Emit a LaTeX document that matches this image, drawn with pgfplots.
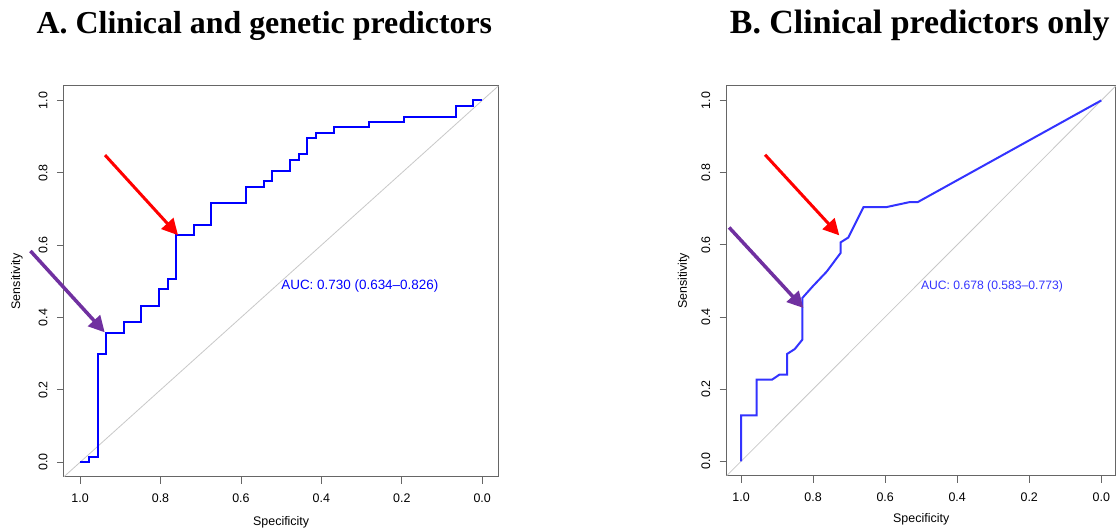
\documentclass[border=0pt]{standalone}
\usepackage{fontspec}
\setmainfont{Liberation Sans}
\newfontfamily\titlefont{Liberation Serif}
\usepackage{pgfplots}
\pgfplotsset{compat=1.18}
\usetikzlibrary{arrows.meta}

\definecolor{rocblue}{HTML}{0000FF}
\definecolor{rocblueb}{HTML}{3333FF}
\definecolor{arrred}{HTML}{FF0000}
\definecolor{arrpurple}{HTML}{7030A0}
\definecolor{framegray}{HTML}{666666}
\definecolor{diaggray}{HTML}{C8C8C8}

\pgfplotsset{rocaxis/.style={
    scale only axis,
    x dir=reverse,
    xmin=-0.04, xmax=1.04, ymin=-0.04, ymax=1.04,
    xtick={0,0.2,0.4,0.6,0.8,1.0},
    ytick={0,0.2,0.4,0.6,0.8,1.0},
    xtick pos=left, ytick pos=left,
    tick align=outside,
    major tick length=7bp,
    every tick/.style={framegray, line width=0.8bp},
    axis line style={framegray, line width=1bp},
    tick label style={font=\fontsize{12.5}{14}\selectfont},
    /pgf/number format/assume math mode=true,
    xticklabel style={yshift=-7bp, /pgf/number format/.cd, fixed, fixed zerofill, precision=1},
    yticklabel style={rotate=90, anchor=south, yshift=6bp, /pgf/number format/.cd, fixed, fixed zerofill, precision=1},
    label style={font=\fontsize{12.5}{14}\selectfont},
    xlabel={Specificity}, ylabel={Sensitivity},
    clip=false,
}}

\begin{document}
\begin{tikzpicture}
\useasboundingbox (0,0) rectangle (1119bp,531bp);

% A. clinical and genetic predictors
\begin{axis}[rocaxis,
    at={(64bp,54.3bp)}, anchor=south west,
    width=434.3bp, height=390.7bp,
    xlabel style={at={(axis description cs:0.5,0)}, anchor=center, yshift=-46bp},
    ylabel style={at={(axis description cs:0,0.5)}, anchor=center, yshift=47bp},
]
\addplot[diaggray, line width=0.8bp] coordinates {(1.04,-0.04) (-0.04,1.04)};
\addplot[rocblue, line width=2bp] coordinates {
    (1.0000,0.0000) (0.9783,0.0000) (0.9783,0.0149) (0.9565,0.0149)
    (0.9565,0.2985) (0.9348,0.2985) (0.9348,0.3582) (0.8913,0.3582)
    (0.8913,0.3881) (0.8478,0.3881) (0.8478,0.4328) (0.8043,0.4328)
    (0.8043,0.4776) (0.7826,0.4776) (0.7826,0.5075) (0.7609,0.5075)
    (0.7609,0.6269) (0.7174,0.6269) (0.7174,0.6567) (0.6739,0.6567)
    (0.6739,0.7164) (0.5870,0.7164) (0.5870,0.7612) (0.5435,0.7612)
    (0.5435,0.7761) (0.5217,0.7761) (0.5217,0.8060) (0.4783,0.8060)
    (0.4783,0.8358) (0.4565,0.8358) (0.4565,0.8507) (0.4348,0.8507)
    (0.4348,0.8955) (0.4130,0.8955) (0.4130,0.9104) (0.3696,0.9104)
    (0.3696,0.9254) (0.2826,0.9254) (0.2826,0.9403) (0.1957,0.9403)
    (0.1957,0.9552) (0.0652,0.9552) (0.0652,0.9851) (0.0217,0.9851)
    (0.0217,1.0000) (0.0000,1.0000)
};
\node[anchor=west, inner sep=0pt, text=rocblue, font=\fontsize{13.5}{15}\selectfont]
    at (axis cs:0.5,0.486) {AUC: 0.730 (0.634–0.826)};
\draw[arrred, line width=3bp, -{Triangle[length=16bp,width=16bp]}]
    (axis cs:0.938,0.849) -- (axis cs:0.7564,0.6276);
\draw[arrpurple, line width=3.5bp, -{Triangle[length=16bp,width=16bp]}]
    (axis cs:1.1234,0.584) -- (axis cs:0.9387,0.359);
\end{axis}

% B. clinical predictors only
\begin{axis}[rocaxis,
    at={(726.7bp,55.3bp)}, anchor=south west,
    width=389bp, height=389.7bp,
    xlabel style={at={(axis description cs:0.5,0)}, anchor=center, yshift=-44bp},
    ylabel style={at={(axis description cs:0,0.5)}, anchor=center, yshift=43bp},
]
\addplot[diaggray, line width=0.8bp] coordinates {(1.04,-0.04) (-0.04,1.04)};
\addplot[rocblueb, line width=2bp] coordinates {
    (1.000,0.000) (1.000,0.1274) (0.9566,0.1274) (0.9566,0.2262)
    (0.914,0.2262) (0.8937,0.240) (0.8725,0.240) (0.8725,0.2973)
    (0.851,0.311) (0.830,0.337) (0.830,0.4525) (0.800,0.486)
    (0.762,0.526) (0.724,0.577) (0.724,0.6065) (0.7024,0.620)
    (0.660,0.7045) (0.596,0.7045) (0.5333,0.718) (0.510,0.718)
    (0.000,1.000)
};
\node[anchor=west, inner sep=0pt, text=rocblueb, font=\fontsize{12.2}{14}\selectfont]
    at (axis cs:0.501,0.485) {AUC: 0.678 (0.583–0.773)};
\draw[arrred, line width=3bp, -{Triangle[length=16bp,width=16bp]}]
    (axis cs:0.9335,0.8495) -- (axis cs:0.7274,0.626);
\draw[arrpurple, line width=3.5bp, -{Triangle[length=16bp,width=16bp]}]
    (axis cs:1.0333,0.648) -- (axis cs:0.827,0.4247);
\end{axis}

\node[anchor=base, font=\titlefont\bfseries\fontsize{32}{36}\selectfont]
    at (264.4bp,497.7bp) {A. Clinical and genetic predictors};
\node[anchor=base, font=\titlefont\bfseries\fontsize{34}{38}\selectfont]
    at (919.7bp,497.7bp) {B. Clinical predictors only};
\end{tikzpicture}
\end{document}
